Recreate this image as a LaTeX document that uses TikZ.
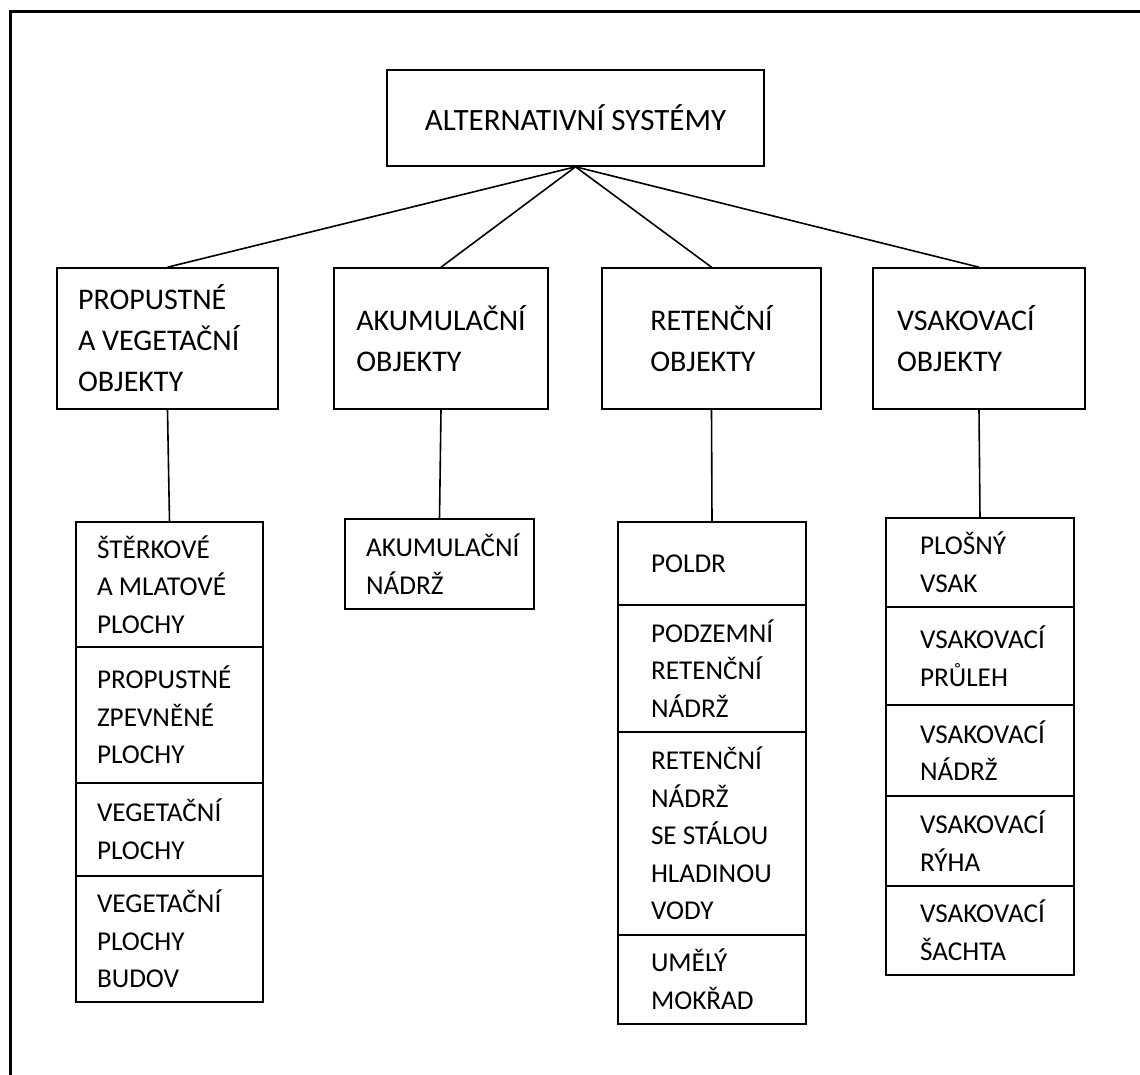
\documentclass[tikz,border=0pt]{standalone}
\usepackage{fontspec}
\setmainfont{Carlito}
\usetikzlibrary{positioning}
\hyphenpenalty=10000

\begin{document}
\begin{tikzpicture}[x=0.5pt,y=-0.5pt,line width=0.8pt,
  headbox/.style={draw,minimum width=188.5pt,minimum height=48pt,font=\fontsize{15.5}{19}\selectfont},
  groupbox/.style={draw,minimum height=70.5pt,align=flush left,font=\fontsize{15}{20.5}\selectfont},
  itembox/.style={draw,outer sep=0pt,align=flush left,anchor=north,font=\fontsize{13.6}{18.8}\selectfont},
  col1/.style={itembox,text width=72.5pt,inner xsep=10.5pt},
  col2/.style={itembox,text width=73.5pt,inner xsep=10.5pt},
  col3/.style={itembox,text width=61pt,inner xsep=16.5pt},
  col4/.style={itembox,text width=60pt,inner xsep=17pt}]
\useasboundingbox (0,0) rectangle (1140,1075);
\draw[line width=1.5pt] (10,1090) -- (10,12) -- (1160,12);

\node[headbox] (alt) at (575.5,118) {ALTERNATIVNÍ SYSTÉMY};

\node[groupbox,text width=89.5pt,inner xsep=10.5pt] (prop) at (167.5,338.5) {PROPUSTNÉ\\A VEGETAČNÍ\\OBJEKTY};
\node[groupbox,minimum width=107pt] (akum) at (441,338.5) {AKUMULAČNÍ\\OBJEKTY};
\node[groupbox,minimum width=109.5pt] (ret) at (711.5,338.5) {RETENČNÍ\\OBJEKTY};
\node[groupbox,text width=82pt,inner xsep=12pt] (vsak) at (979,338.5) {VSAKOVACÍ\\OBJEKTY};

% propustne a vegetacni
\node[col1,minimum height=62.5pt] (prop1) at (169.5,522) {ŠTĚRKOVÉ\\A MLATOVÉ\\PLOCHY};
\node[col1,minimum height=68pt,below=0pt of prop1] (prop2) {PROPUSTNÉ\\ZPEVNĚNÉ\\PLOCHY};
\node[col1,minimum height=46.5pt,below=0pt of prop2] (prop3) {VEGETAČNÍ\\PLOCHY};
\node[col1,minimum height=63pt,below=0pt of prop3] (prop4) {VEGETAČNÍ\\PLOCHY\\BUDOV};

% akumulacni
\node[col2,minimum height=45pt] (akum1) at (439.5,519) {AKUMULAČNÍ\\NÁDRŽ};

% retencni
\node[col3,minimum height=41.5pt] (ret1) at (712,522) {POLDR};
\node[col3,minimum height=63.5pt,below=0pt of ret1] (ret2) {PODZEMNÍ\\RETENČNÍ\\NÁDRŽ};
\node[col3,minimum height=101.5pt,below=0pt of ret2] (ret3) {RETENČNÍ\\NÁDRŽ\\SE STÁLOU\\HLADINOU\\VODY};
\node[col3,minimum height=44.5pt,below=0pt of ret3] (ret4) {UMĚLÝ\\MOKŘAD};

% vsakovaci
\node[col4,minimum height=44.5pt] (vsak1) at (980,518) {PLOŠNÝ\\VSAK};
\node[col4,minimum height=49pt,below=0pt of vsak1] (vsak2) {VSAKOVACÍ\\PRŮLEH};
\node[col4,minimum height=45.5pt,below=0pt of vsak2] (vsak3) {VSAKOVACÍ\\NÁDRŽ};
\node[col4,minimum height=45pt,below=0pt of vsak3] (vsak4) {VSAKOVACÍ\\RÝHA};
\node[col4,minimum height=44.5pt,below=0pt of vsak4] (vsak5) {VSAKOVACÍ\\ŠACHTA};

\foreach \g in {prop,akum,ret,vsak} {
  \draw (alt.south) -- (\g.north);
  \draw (\g.south) -- (\g1.north);
}
\end{tikzpicture}
\end{document}
